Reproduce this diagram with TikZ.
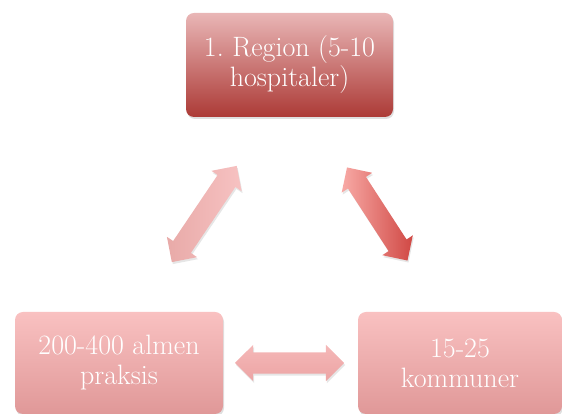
\documentclass[tikz,border=0pt]{standalone}
\usepackage{tikz}
\usetikzlibrary{shapes.arrows,shadows,calc}
\definecolor{regtop}{RGB}{233,182,182}
\definecolor{regbot}{RGB}{172,58,54}
\definecolor{pinktop}{RGB}{249,193,193}
\definecolor{pinkbot}{RGB}{224,152,152}
\frenchspacing

\begin{document}
\begin{tikzpicture}[x=1pt,y=1pt,
	box/.style={rectangle, rounded corners=8pt, text=white, align=center, inner sep=0pt,
		font=\fontsize{28}{30}\selectfont,
		drop shadow={shadow xshift=1pt, shadow yshift=-2pt, opacity=0.25}},
	dblarrow/.style={double arrow, double arrow head extend=7.5pt, inner xsep=0pt, inner ysep=10.5pt,
		drop shadow={shadow xshift=1pt, shadow yshift=-2pt, opacity=0.2}}]
	\useasboundingbox (0,0) rectangle (562,414);
	\node[box, minimum width=207pt, minimum height=104pt, top color=regtop, bottom color=regbot] (region) at (289.5,349) {1. Region (5-10\\hospitaler)};
	\node[box, minimum width=208pt, minimum height=102pt, top color=pinktop, bottom color=pinkbot] (almen) at (119,51) {200-400 almen\\praksis};
	\node[box, minimum width=204pt, minimum height=102pt, top color=pinktop, bottom color=pinkbot] (kommuner) at (460,51) {15-25\\kommuner};
	\node[dblarrow, rotate=56, minimum height=116pt, left color={rgb,255:red,232;green,170;blue,168}, right color={rgb,255:red,247;green,194;blue,194}] (left) at ($(region)!0.5!(almen)$) {};
	\node[dblarrow, rotate=-57, minimum height=111pt, left color={rgb,255:red,248;green,170;blue,166}, right color={rgb,255:red,208;green,72;blue,68}] (right) at ($(region)!0.5!(kommuner)+(2.5,0)$) {};
	\node[dblarrow, minimum height=109pt, top color={rgb,255:red,245;green,184;blue,184}, bottom color={rgb,255:red,236;green,164;blue,164}] (bottom) at ($(almen)!0.5!(kommuner)$) {};
\end{tikzpicture}
\end{document}
